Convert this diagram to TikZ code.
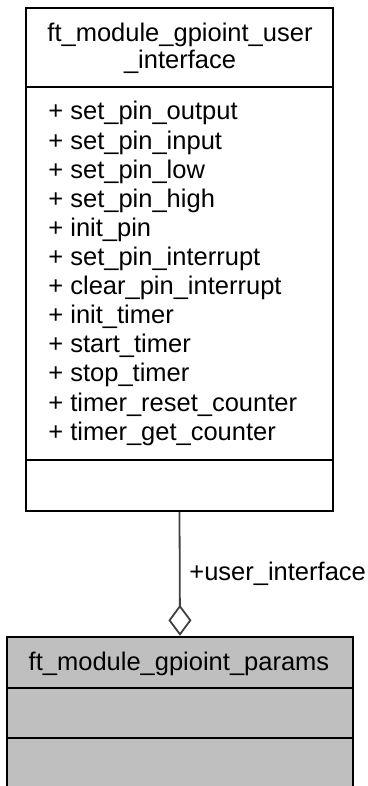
\documentclass[tikz,border=0pt]{standalone}
\usepackage{fontspec}
\setmainfont{Liberation Sans}
\usetikzlibrary{arrows.meta}
\definecolor{edgegray}{HTML}{404040}
\definecolor{boxgray}{HTML}{BFBFBF}

\begin{document}
\begin{tikzpicture}[x=0.5pt,y=-0.5pt,
  classbox/.style={draw=black,line width=1.2pt,inner sep=0pt},
  sepline/.style={black,line width=1.2pt},
  member/.style={anchor=base west,inner sep=0pt,font=\fontsize{12.75pt}{14.5pt}\selectfont},
  classname/.style={anchor=base,inner sep=0pt,font=\fontsize{12.75pt}{14.5pt}\selectfont}]
  \clip (0,0) rectangle (368,786);
  % interface class
  \node[classbox,fill=white,minimum width=153.5pt,minimum height=251.5pt] (iface) at (179.5,259.5) {};
  \node[classname] (ifacename) at (180,42) {ft\_module\_gpioint\_user};
  \node[classname] (ifacename2) at (180,69) {\_interface};
  \draw[sepline] (iface.west |- 0,87) -- (iface.east |- 0,87);
  \foreach \meth [count=\i from 0] in {set\_pin\_output,set\_pin\_input,set\_pin\_low,
      set\_pin\_high,init\_pin,set\_pin\_interrupt,clear\_pin\_interrupt,init\_timer,
      start\_timer,stop\_timer,timer\_reset\_counter,timer\_get\_counter}
    \node[member] (meth\i) at (48,{120+29.1*\i}) {+ \meth};
  \draw[sepline] (iface.west |- 0,460) -- (iface.east |- 0,460);
  % params struct
  \node[classbox,fill=boxgray,minimum width=173pt,minimum height=82pt] (params) at (180,719) {};
  \node[classname] (paramsname) at (179,670) {ft\_module\_gpioint\_params};
  \draw[sepline] (params.west |- 0,688) -- (params.east |- 0,688);
  \draw[sepline] (params.west |- 0,738) -- (params.east |- 0,738);
  % aggregation
  \draw[edgegray,line width=0.9pt,-{Diamond[open,length=15.5pt,width=11.5pt]}]
    (iface.south) -- (params.north);
  \node[member] (role) at (189,580) {+user\_interface};
\end{tikzpicture}
\end{document}
